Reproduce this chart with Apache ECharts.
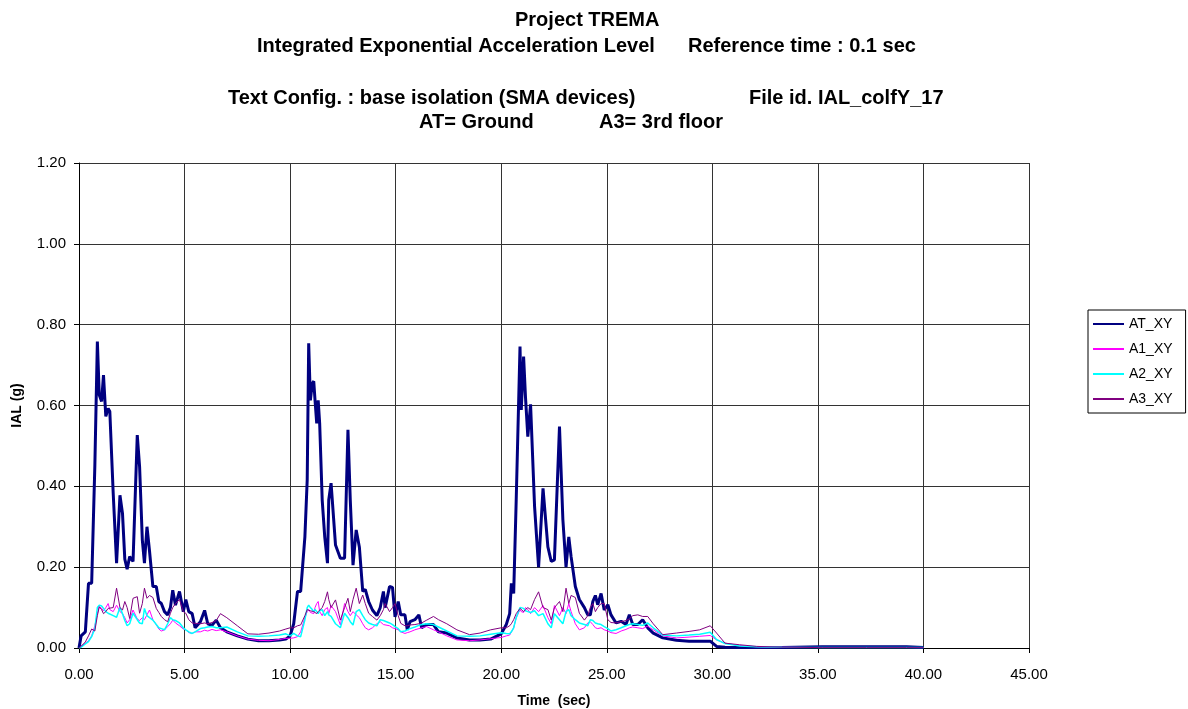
<!DOCTYPE html>
<html>
<head>
<meta charset="utf-8">
<title>Project TREMA - IAL</title>
<script src="https://cdn.jsdelivr.net/npm/echarts@6/dist/echarts.min.js"></script>
<style>
  html, body { margin: 0; padding: 0; background: #fff; }
  #ialChart { width: 1188px; height: 709px; }
</style>
</head>
<body>
<div id="ialChart"></div>
<script>
  // time (sec), shared by all four records
  const timeSec = [
    // test 1
    0, 0.1, 0.3, 0.45, 0.6, 0.75, 0.87, 0.96, 1.07, 1.16,
    1.27, 1.38, 1.46, 1.62, 1.78, 1.94, 2.06, 2.17, 2.28, 2.4,
    2.56, 2.76, 2.87, 3.0, 3.1, 3.22, 3.34, 3.5, 3.66, 3.78,
    3.9, 4.05, 4.2, 4.33, 4.44, 4.57, 4.76, 4.94, 5.06, 5.2,
    5.36, 5.5, 5.75, 5.95, 6.1, 6.3, 6.5, 6.7, 7.0, 7.5,
    8.0, 8.5, 9.0, 9.5, 9.8, 10.0,
    // test 2
    10.17, 10.35, 10.5, 10.7, 10.81, 10.88, 10.96, 11.05, 11.12, 11.18,
    11.26, 11.33, 11.4, 11.52, 11.64, 11.77, 11.83, 11.94, 12.15, 12.38,
    12.58, 12.74, 12.85, 12.98, 13.13, 13.28, 13.44, 13.56, 13.72, 13.9,
    14.11, 14.27, 14.42, 14.5, 14.71, 14.85, 14.97, 15.12, 15.24, 15.44,
    15.55, 15.68, 15.91, 16.1, 16.23, 16.47, 16.79, 17.03, 17.42, 17.9,
    18.5, 19.0, 19.5, 20.0,
    // test 3 + tail
    20.24, 20.4, 20.48, 20.59, 20.71, 20.89, 20.95, 21.06, 21.15, 21.26,
    21.39, 21.58, 21.77, 21.98, 22.21, 22.37, 22.52, 22.76, 22.92, 23.07,
    23.2, 23.31, 23.51, 23.7, 23.94, 24.1, 24.22, 24.34, 24.46, 24.57,
    24.73, 24.88, 25.05, 25.2, 25.44, 25.68, 25.91, 26.07, 26.23, 26.47,
    26.7, 26.94, 27.2, 27.65, 28.3, 28.9, 29.4, 29.9, 30.2, 30.6,
    31.3, 32.1, 33.3, 35.2, 37.3, 39.2, 40
  ]

  const atXY = [
    0, 0.03, 0.04, 0.16, 0.16, 0.45, 0.758, 0.626, 0.61, 0.675,
    0.573, 0.593, 0.585, 0.383, 0.21, 0.378, 0.333, 0.22, 0.195, 0.226,
    0.214, 0.527, 0.449, 0.267, 0.21, 0.30, 0.24, 0.152, 0.152, 0.115,
    0.11, 0.09, 0.082, 0.10, 0.143, 0.106, 0.14, 0.09, 0.12, 0.09,
    0.085, 0.05, 0.065, 0.093, 0.06, 0.056, 0.069, 0.05, 0.04, 0.03,
    0.022, 0.018, 0.018, 0.02, 0.022, 0.03,

    0.06, 0.14, 0.14, 0.275, 0.416, 0.754, 0.613, 0.655, 0.66, 0.613,
    0.556, 0.613, 0.556, 0.366, 0.275, 0.21, 0.366, 0.408, 0.255, 0.222,
    0.222, 0.54, 0.366, 0.205, 0.292, 0.25, 0.14, 0.145, 0.115, 0.094,
    0.08, 0.1, 0.14, 0.1, 0.152, 0.15, 0.077, 0.115, 0.082, 0.082,
    0.045, 0.065, 0.07, 0.082, 0.05, 0.058, 0.058, 0.04, 0.037, 0.025,
    0.02, 0.02, 0.022, 0.035,

    0.058, 0.085, 0.16, 0.135, 0.366, 0.746, 0.589, 0.721, 0.62, 0.523,
    0.603, 0.35, 0.2, 0.395, 0.25, 0.214, 0.218, 0.548, 0.318, 0.2,
    0.275, 0.226, 0.152, 0.12, 0.1, 0.082, 0.082, 0.115, 0.13, 0.107,
    0.135, 0.094, 0.107, 0.082, 0.062, 0.066, 0.058, 0.082, 0.058, 0.058,
    0.07, 0.05, 0.037, 0.025, 0.019, 0.017, 0.017, 0.017, 0.004, 0.002,
    0.001, 0.001, 0.001, 0.003, 0.003, 0.003, 0.001
  ]

  const a1XY = [
    0, 0.005, 0.012, 0.018, 0.03, 0.055, 0.085, 0.102, 0.098, 0.092,
    0.1, 0.11, 0.095, 0.09, 0.106, 0.09, 0.085, 0.075, 0.062, 0.07,
    0.094, 0.072, 0.068, 0.075, 0.07, 0.082, 0.094, 0.07, 0.058, 0.047,
    0.042, 0.045, 0.053, 0.06, 0.069, 0.062, 0.055, 0.047, 0.045, 0.038,
    0.036, 0.04, 0.04, 0.044, 0.042, 0.046, 0.043, 0.045, 0.04, 0.03,
    0.022, 0.019, 0.018, 0.021, 0.024, 0.024,

    0.025, 0.028, 0.04, 0.075, 0.09, 0.095, 0.088, 0.09, 0.085, 0.1,
    0.11, 0.115, 0.09, 0.08, 0.095, 0.1, 0.085, 0.105, 0.09, 0.057,
    0.11, 0.09, 0.08, 0.09, 0.082, 0.075, 0.06, 0.05, 0.045, 0.05,
    0.06, 0.065, 0.058, 0.06, 0.055, 0.05, 0.048, 0.045, 0.04, 0.036,
    0.038, 0.04, 0.045, 0.048, 0.05, 0.053, 0.045, 0.04, 0.03, 0.02,
    0.018, 0.02, 0.023, 0.026,

    0.03, 0.032, 0.035, 0.05, 0.075, 0.095, 0.09, 0.088, 0.1, 0.095,
    0.085, 0.1, 0.09, 0.105, 0.075, 0.06, 0.105, 0.08, 0.1, 0.085,
    0.11, 0.09, 0.06, 0.045, 0.05, 0.062, 0.065, 0.058, 0.05, 0.048,
    0.05, 0.045, 0.042, 0.038, 0.036, 0.042, 0.046, 0.05, 0.052, 0.05,
    0.048, 0.054, 0.045, 0.03, 0.025, 0.027, 0.029, 0.031, 0.02, 0.012,
    0.006, 0.003, 0.002, 0.001, 0.001, 0.001, 0.001
  ]

  const a2XY = [
    0, 0.002, 0.01, 0.016, 0.028, 0.048, 0.1, 0.106, 0.104, 0.098,
    0.09, 0.086, 0.09, 0.08, 0.076, 0.1, 0.085, 0.068, 0.055, 0.06,
    0.086, 0.07, 0.062, 0.06, 0.098, 0.08, 0.075, 0.069, 0.058, 0.05,
    0.048, 0.045, 0.06, 0.075, 0.07, 0.068, 0.062, 0.05, 0.045, 0.04,
    0.036, 0.04, 0.048, 0.05, 0.052, 0.053, 0.05, 0.05, 0.052, 0.04,
    0.03, 0.029, 0.03, 0.032, 0.035, 0.03,

    0.036, 0.03, 0.028, 0.07, 0.1, 0.106, 0.1, 0.095, 0.09, 0.095,
    0.09, 0.085, 0.092, 0.095, 0.08, 0.09, 0.082, 0.078, 0.06, 0.05,
    0.086, 0.075, 0.065, 0.057, 0.09, 0.095, 0.08, 0.07, 0.062, 0.058,
    0.055, 0.07, 0.068, 0.065, 0.062, 0.058, 0.053, 0.048, 0.04, 0.042,
    0.045, 0.048, 0.052, 0.056, 0.058, 0.06, 0.058, 0.052, 0.042, 0.03,
    0.029, 0.03, 0.034, 0.038,

    0.036, 0.035, 0.04, 0.05, 0.075, 0.1, 0.104, 0.098, 0.092, 0.09,
    0.088, 0.092, 0.08, 0.085, 0.06, 0.05, 0.085, 0.07, 0.06, 0.09,
    0.095, 0.08, 0.07, 0.062, 0.058, 0.055, 0.07, 0.068, 0.062, 0.06,
    0.058, 0.053, 0.048, 0.042, 0.045, 0.05, 0.055, 0.058, 0.06, 0.058,
    0.056, 0.062, 0.05, 0.032, 0.03, 0.032, 0.034, 0.039, 0.021, 0.011,
    0.005, 0.003, 0.002, 0.001, 0.001, 0.001, 0.001
  ]

  const a3XY = [
    0, 0.004, 0.015, 0.03, 0.047, 0.042, 0.08, 0.102, 0.095, 0.085,
    0.09, 0.098, 0.098, 0.1, 0.148, 0.1, 0.094, 0.115, 0.1, 0.073,
    0.123, 0.127, 0.086, 0.11, 0.148, 0.123, 0.13, 0.125, 0.098, 0.088,
    0.078, 0.07, 0.065, 0.086, 0.1, 0.11, 0.12, 0.09, 0.086, 0.07,
    0.062, 0.061, 0.06, 0.062, 0.06, 0.063, 0.068, 0.085, 0.075, 0.055,
    0.035, 0.034, 0.037, 0.042, 0.047, 0.05,

    0.05, 0.055, 0.057, 0.08, 0.095, 0.098, 0.092, 0.088, 0.09, 0.09,
    0.085, 0.09, 0.094, 0.1, 0.115, 0.139, 0.12, 0.1, 0.119, 0.069,
    0.1, 0.123, 0.09, 0.12, 0.148, 0.11, 0.131, 0.11, 0.086, 0.078,
    0.069, 0.08, 0.095, 0.11, 0.09, 0.1, 0.11, 0.08, 0.061, 0.055,
    0.055, 0.057, 0.058, 0.06, 0.062, 0.069, 0.078, 0.07, 0.06, 0.045,
    0.033, 0.037, 0.045, 0.05,

    0.05, 0.055, 0.06, 0.07, 0.085, 0.098, 0.095, 0.09, 0.095, 0.1,
    0.095, 0.12, 0.139, 0.1, 0.095, 0.069, 0.1, 0.115, 0.09, 0.148,
    0.11, 0.13, 0.125, 0.086, 0.069, 0.08, 0.1, 0.11, 0.09, 0.1,
    0.11, 0.11, 0.07, 0.063, 0.062, 0.065, 0.068, 0.072, 0.08, 0.082,
    0.078, 0.078, 0.06, 0.033, 0.037, 0.041, 0.045, 0.055, 0.037, 0.012,
    0.008, 0.004, 0.002, 0.001, 0.001, 0.001, 0.001
  ]

  const seriesNames = ['AT_XY', 'A1_XY', 'A2_XY', 'A3_XY']
  const seriesColors = ['#000080', '#ff00ff', '#00ffff', '#800080']
  const seriesWidths = [3, 1, 1.5, 1]
  const seriesValues = [atXY, a1XY, a2XY, a3XY]

  const font = 'Liberation Sans, Arial, sans-serif'

  function pairs (values) {
    return timeSec.map((t, i) => [t, values[i]])
  }

  function titleText (text, left, top) {
    return {
      text: text,
      left: left,
      top: top,
      padding: 0,
      textStyle: { fontFamily: font, fontSize: 20, fontWeight: 'bold', color: '#000' },
    }
  }

  const chart = echarts.init(document.getElementById('ialChart'))

  const option = {
    backgroundColor: '#fff',
    animation: false,
    title: [
      titleText('Project TREMA', 515, 10),
      titleText('Integrated Exponential Acceleration Level', 257, 36),
      titleText('Reference time : 0.1 sec', 688, 36),
      titleText('Text Config. : base isolation (SMA devices)', 228, 88),
      titleText('File id. IAL_colfY_17', 749, 88),
      titleText('AT= Ground', 419, 112),
      titleText('A3= 3rd floor', 599, 112),
    ],
    legend: {
      orient: 'vertical',
      left: 1088,
      top: 310,
      padding: [7, 13, 7, 4],
      itemWidth: 31,
      itemHeight: 14,
      itemGap: 11,
      borderColor: '#000',
      borderWidth: 1,
      itemStyle: { opacity: 0 },
      textStyle: { fontFamily: font, fontSize: 14, color: '#000' },
      data: seriesNames,
    },
    grid: {
      left: 79,
      right: 159,
      top: 163,
      bottom: 61,
      outerBoundsMode: 'none',
    },
    xAxis: {
      type: 'value',
      min: 0,
      max: 45,
      interval: 5,
      name: 'Time  (sec)',
      nameLocation: 'middle',
      nameGap: 46,
      nameTextStyle: { fontFamily: font, fontSize: 14, fontWeight: 'bold', color: '#000' },
      axisLine: { lineStyle: { color: '#000', width: 1 } },
      axisTick: { show: true, length: 5, lineStyle: { color: '#000' } },
      axisLabel: {
        margin: 19,
        fontFamily: font,
        fontSize: 15,
        color: '#000',
        formatter: v => v.toFixed(2),
      },
      splitLine: { show: true, lineStyle: { color: '#333', width: 1 } },
    },
    yAxis: {
      type: 'value',
      min: 0,
      max: 1.2,
      interval: 0.2,
      name: 'IAL (g)',
      nameLocation: 'middle',
      nameGap: 55,
      nameTextStyle: { fontFamily: font, fontSize: 14, fontWeight: 'bold', color: '#000' },
      axisLine: { show: true, lineStyle: { color: '#000', width: 1 } },
      axisTick: { show: true, length: 5, lineStyle: { color: '#000' } },
      axisLabel: {
        margin: 13,
        fontFamily: font,
        fontSize: 15,
        color: '#000',
        formatter: v => v.toFixed(2),
      },
      splitLine: { show: true, lineStyle: { color: '#333', width: 1 } },
    },
    series: seriesNames.map((name, i) => ({
      name: name,
      type: 'line',
      data: pairs(seriesValues[i]),
      symbol: 'none',
      smooth: false,
      color: seriesColors[i],
      lineStyle: { color: seriesColors[i], width: seriesWidths[i] },
    })),
  }

  chart.setOption(option)
</script>
</body>
</html>
